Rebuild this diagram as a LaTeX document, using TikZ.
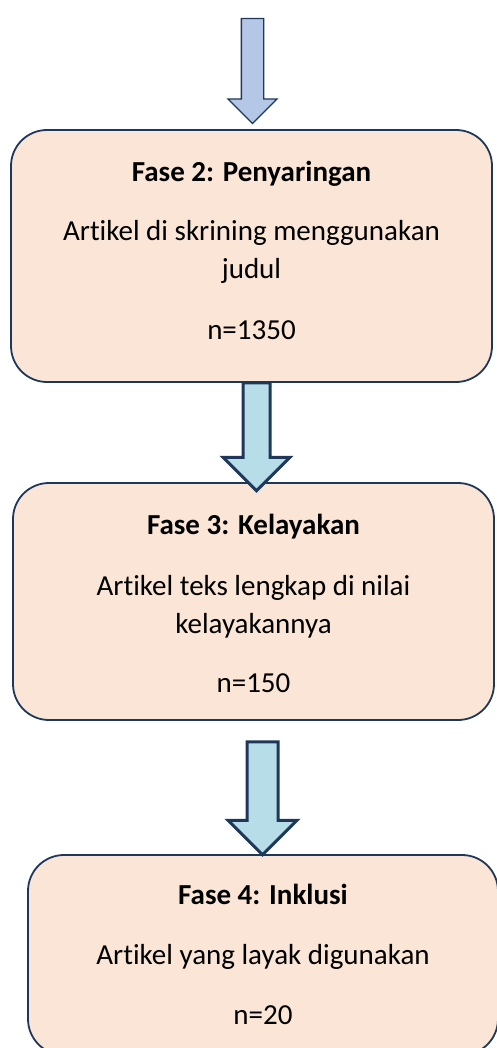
\documentclass[tikz,border=0pt]{standalone}
\usepackage{fontspec}
\setmainfont[Ligatures=NoCommon]{Carlito}
\usetikzlibrary{shapes, arrows, positioning}
\definecolor{boxfill}{RGB}{251, 229, 214}
\definecolor{navyline}{RGB}{31, 56, 90}
\definecolor{paleblue}{RGB}{180, 199, 231}
\definecolor{paleaqua}{RGB}{183, 222, 232}

\begin{document}
\begin{tikzpicture}[x=1pt, y=-1pt,
        phase/.style={rectangle, draw=navyline, fill=boxfill, line width=1.8pt, rounded corners=36pt, inner sep=0pt},
        title/.style={anchor=base, font=\fontsize{29}{38}\selectfont\bfseries, inner sep=0pt},
        body/.style={anchor=base, font=\fontsize{29}{38}\selectfont, align=center, inner sep=0pt},
        blockarrow/.style={single arrow, draw=navyline, rotate=-90, inner xsep=0pt, single arrow tip angle=90}
    ]
        \useasboundingbox (0,0) rectangle (496,1048);

        \node[phase, minimum width=481pt, minimum height=252pt] (screen) at (251.5,256) {};
        \node[phase, minimum width=481pt, minimum height=237pt] (elig) at (253.5,601.5) {};
        \node[phase, minimum width=470pt, minimum height=200pt] (incl) at (263,955) {};

        % base of a two-line text is its last line
        \node[title] (screentitle) at ([yshift=-52pt]screen.north) {Fase 2: Penyaringan};
        \node[body] (screentext) at ([yshift=-149pt]screen.north) {Artikel di skrining menggunakan\\judul};
        \node[body] (screenn) at ([yshift=-210pt]screen.north) {n=1350};

        \node[title] (eligtitle) at ([yshift=-52pt]elig.north) {Fase 3: Kelayakan};
        \node[body] (eligtext) at ([yshift=-151pt]elig.north) {Artikel teks lengkap di nilai\\kelayakannya};
        \node[body] (eligexn) at ([yshift=-210pt]elig.north) {n=150};

        \node[title] (incltitle) at ([yshift=-50pt]incl.north) {Fase 4: Inklusi};
        \node[body] (incltext) at ([yshift=-110pt]incl.north) {Artikel yang layak digunakan};
        \node[body] (incln) at ([yshift=-170pt]incl.north) {n=20};

        \node[blockarrow, fill=paleblue, line width=1.3pt, minimum height=105pt, inner ysep=10.5pt, single arrow head extend=13.5pt] (start) at (252.5,65.5) {};
        \node[blockarrow, fill=paleaqua, line width=3pt, minimum height=108pt, inner ysep=12pt, single arrow head extend=20pt] (toelig) at (256.5,430) {};
        \node[blockarrow, fill=paleaqua, line width=3pt, minimum height=113pt, inner ysep=14pt, single arrow head extend=19pt] (toincl) at (262.5,790.5) {};
    \end{tikzpicture}
\end{document}
